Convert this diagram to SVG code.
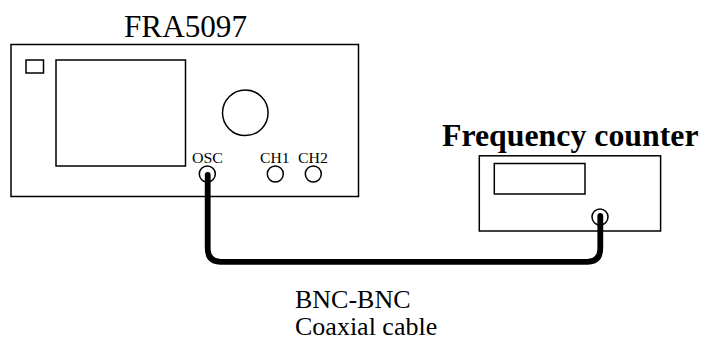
<svg xmlns="http://www.w3.org/2000/svg" width="702" height="338" viewBox="0 0 702 338">
<style>
.s{fill:#fff;stroke:#000;stroke-width:1.5}
.t{font-family:"Liberation Serif",serif;fill:#000}
.c{font-size:15.500px}
.l{font-size:26px}
</style>
<rect width="702" height="338" fill="#fff"/>
<g id="fra5097">
<rect class="s" x="11" y="44.500" width="347.500" height="152"/>
<rect class="s" x="26" y="60" width="17.500" height="13"/>
<rect class="s" x="56" y="60" width="129.500" height="106"/>
<circle class="s" cx="245.300" cy="112.800" r="22.800"/>
<circle class="s" cx="207.300" cy="174" r="8"/>
<circle class="s" cx="275.300" cy="174" r="8"/>
<circle class="s" cx="313.300" cy="174" r="8"/>
<text class="t" x="124" y="36.500" font-size="31.500" textLength="123" lengthAdjust="spacingAndGlyphs">FRA5097</text>
<text class="t c" x="192" y="163.300" textLength="31" lengthAdjust="spacingAndGlyphs">OSC</text>
<text class="t c" x="260" y="163.300" textLength="29.500" lengthAdjust="spacingAndGlyphs">CH1</text>
<text class="t c" x="298" y="163.300" textLength="30" lengthAdjust="spacingAndGlyphs">CH2</text>
</g>
<g id="frequency-counter">
<rect class="s" x="479.300" y="155.800" width="181.300" height="75.200"/>
<rect class="s" x="494.300" y="163.500" width="90.700" height="30.500"/>
<circle class="s" cx="600" cy="217" r="8"/>
<text class="t" x="442" y="146" font-size="31.500" font-weight="bold" textLength="256.500" lengthAdjust="spacingAndGlyphs">Frequency counter</text>
</g>
<g id="connectors">
<path d="M207.700 175V248Q207.700 261.800 221 261.800H587Q600.300 261.800 600.300 248V216" fill="none" stroke="#000" stroke-width="5.800" stroke-linecap="round"/>
</g>
<g id="cable-label">
<text class="t l" x="295" y="308">BNC-BNC</text>
<text class="t l" x="295" y="335">Coaxial cable</text>
</g>
</svg>
